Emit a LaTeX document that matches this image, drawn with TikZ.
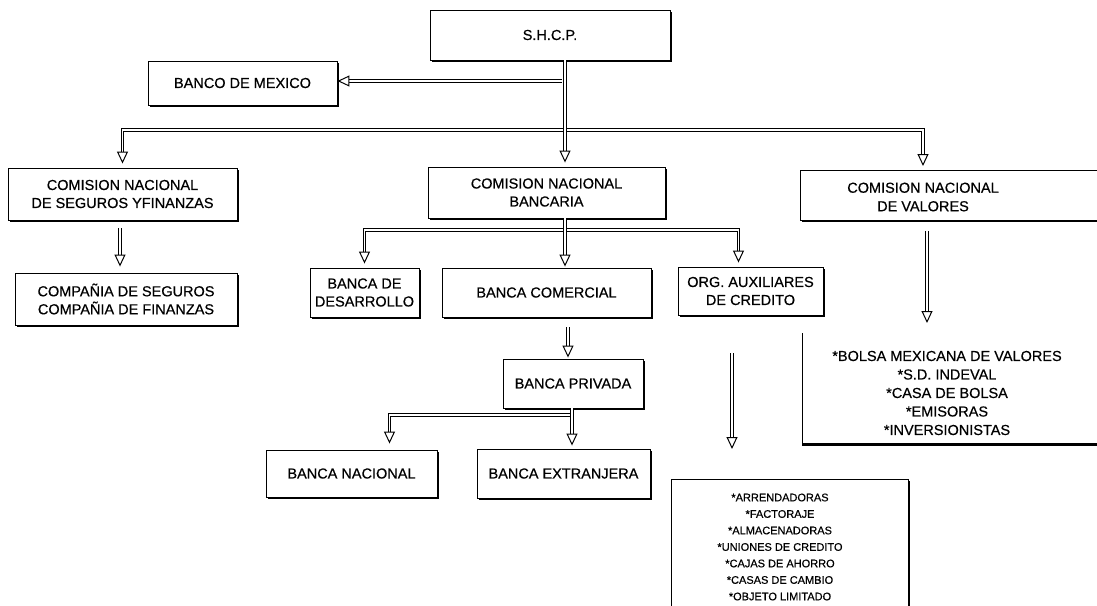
\documentclass[tikz,border=0pt]{standalone}
\usepackage{fontspec}
\setmainfont[RawFeature={embolden=0.5}]{Liberation Sans}
\usetikzlibrary{arrows.meta,shadows,calc}
\begin{document}
\begin{tikzpicture}[x=1pt,y=-1pt,
  box/.style={draw, line width=0.9pt, fill=white,
    drop shadow={shadow xshift=1.8pt, shadow yshift=-1.8pt, fill=black, opacity=1},
    inner sep=0pt, align=center, font=\fontsize{14.5}{18}\selectfont},
  txt/.style={inner sep=0pt, align=center, font=\fontsize{14.5}{18.5}\selectfont},
  small/.style={inner sep=0pt, align=center, font=\fontsize{11}{16.5}\selectfont},
  conn/.style={double=white, double distance=1.8pt, line width=0.9pt,
    -{Triangle[open,length=12pt,width=11pt,line width=1pt]}}]
\path[use as bounding box] (0,0) rectangle (1097,605);
\clip (0,0) rectangle (1097,605);

% boxes
\node[box, minimum width=240pt, minimum height=50pt] (shcp) at (550,35) {S.H.C.P.};
\node[box, minimum width=189pt, minimum height=44pt] (banco) at (242.5,83) {BANCO DE MEXICO};
\node[box, minimum width=229pt, minimum height=52pt] (cnsf) at (122.5,194) {COMISION NACIONAL\\DE SEGUROS YFINANZAS};
\node[box, minimum width=237pt, minimum height=51pt] (cnb) at (546.5,192.5) {COMISION NACIONAL\\BANCARIA};
\node[box, minimum width=320pt, minimum height=50pt, anchor=north west] (cnv) at (800,170) {};
\node[txt] (cnvt) at (923,197) {COMISION NACIONAL\\DE VALORES};
\node[box, minimum width=222pt, minimum height=52pt] (comp) at (126,299) {COMPAÑIA DE SEGUROS\\COMPAÑIA DE FINANZAS};
\node[box, minimum width=109pt, minimum height=49pt] (desa) at (364.5,292.5) {BANCA DE\\DESARROLLO};
\node[box, minimum width=209pt, minimum height=49pt] (come) at (546.5,292.5) {BANCA COMERCIAL};
\node[box, minimum width=145pt, minimum height=48pt] (org) at (750.5,291) {ORG. AUXILIARES\\DE CREDITO};
\node[box, minimum width=140pt, minimum height=49pt] (priv) at (573,383.5) {BANCA PRIVADA};
\node[box, minimum width=171pt, minimum height=47pt] (nac) at (351.5,473.5) {BANCA NACIONAL};
\node[box, minimum width=173pt, minimum height=49pt] (ext) at (563.5,473.5) {BANCA EXTRANJERA};

\node[minimum width=320pt, minimum height=110pt, anchor=north west, inner sep=0pt] (bolsa) at (802,333) {};
\draw[line width=0.9pt] (bolsa.north west) -- (bolsa.south west) -- (bolsa.south east);
\draw[line width=1.8pt] ([yshift=-1.3pt]bolsa.south west) -- ([yshift=-1.3pt]bolsa.south east);
\node[txt] (bolsat) at (947,393) {*BOLSA MEXICANA DE VALORES\\*S.D. INDEVAL\\*CASA DE BOLSA\\*EMISORAS\\*INVERSIONISTAS};

\node[box, minimum width=237pt, minimum height=150pt, anchor=north west] (list) at (671,479) {};
\node[small] (listt) at (780,547) {*ARRENDADORAS\\*FACTORAJE\\*ALMACENADORAS\\*UNIONES DE CREDITO\\*CAJAS DE AHORRO\\*CASAS DE CAMBIO\\*OBJETO LIMITADO};

% connectors
\coordinate (v) at (565,0);
\coordinate (bar) at (565,130);
\coordinate (bk) at (562,81);
\draw[conn, shorten >=4pt] (bar) -| (cnsf.north);
\draw[conn, shorten >=4pt] (bar) -| (cnvt.north |- cnv.north);
\draw[conn] (bk) -- (bk -| banco.east);
\draw[conn, shorten >=4pt] (shcp.south -| v) -- (cnb.north -| v);

\coordinate (b2) at (565,230);
\draw[conn, shorten >=4pt] (b2) -| (desa.north);
\draw[conn, shorten >=4pt] (b2) -| ([xshift=-12pt]org.north);
\draw[conn, shorten >=1pt] (cnb.south -| v) -- (come.north -| v);

\coordinate (v2) at (568,0);
\draw[conn, shorten <=10pt, shorten >=1pt] (come.south -| v2) -- (priv.north -| v2);

\coordinate (v3) at (572,0);
\coordinate (b3) at (572,415);
\draw[conn, shorten >=6pt] (b3) -| ([xshift=38pt]nac.north);
\draw[conn, shorten >=3pt] (priv.south -| v3) -- (ext.north -| v3);

\coordinate (v4) at (120,0);
\draw[conn, shorten <=8pt, shorten >=6pt] (cnsf.south -| v4) -- (comp.north -| v4);

\coordinate (v5) at (732,0);
\draw[conn, shorten <=38pt, shorten >=30pt] (org.south -| v5) -- (list.north -| v5);

\coordinate (v6) at (927,0);
\draw[conn, shorten <=10pt, shorten >=10pt] (cnv.south -| v6) -- (bolsa.north -| v6);
\end{tikzpicture}
\end{document}
